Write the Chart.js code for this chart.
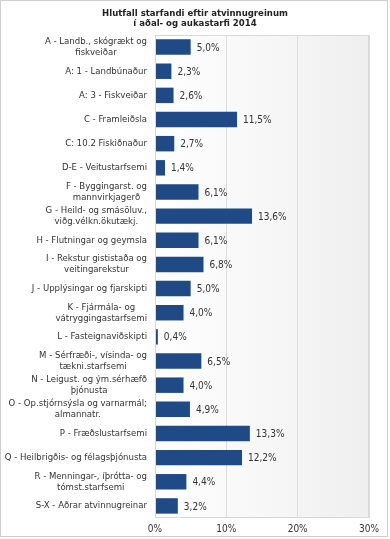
<!DOCTYPE html>
<html>
<head>
<meta charset="utf-8">
<script src="https://cdn.jsdelivr.net/npm/chart.js@4/dist/chart.umd.min.js"></script>
<style>
  html, body { margin: 0; padding: 0; background: #fff; }
  #wrap { width: 390px; height: 539px; }
</style>
</head>
<body>
<div id="wrap"><canvas id="myChart" width="390" height="539"></canvas></div>
<script>
const chartTitle = ["Hlutfall starfandi eftir atvinnugreinum", "í aðal- og aukastarfi 2014"];

const categories = [
    ["A - Landb., skógrækt og", "fiskveiðar"],
    "A: 1 - Landbúnaður",
    "A: 3 - Fiskveiðar",
    "C - Framleiðsla",
    "C: 10.2 Fiskiðnaður",
    "D-E - Veitustarfsemi",
    ["F - Byggingarst. og", "mannvirkjagerð"],
    ["G - Heild- og smásöluv.,", "viðg.vélkn.ökutækj."],
    "H - Flutningar og geymsla",
    ["I - Rekstur gististaða og", "veitingarekstur"],
    "J - Upplýsingar og fjarskipti",
    ["K - Fjármála- og", "vátryggingastarfsemi"],
    "L - Fasteignaviðskipti",
    ["M - Sérfræði-, vísinda- og", "tækni.starfsemi"],
    ["N - Leigust. og ým.sérhæfð", "þjónusta"],
    ["O - Op.stjórnsýsla og varnarmál;", "almannatr."],
    "P - Fræðslustarfsemi",
    "Q - Heilbrigðis- og félagsþjónusta",
    ["R - Menningar-, íþrótta- og", "tómst.starfsemi"],
    "S-X - Aðrar atvinnugreinar",
];

const shares = [5.0, 2.3, 2.6, 11.5, 2.7, 1.4, 6.1, 13.6, 6.1, 6.8, 5.0, 4.0, 0.4, 6.5, 4.0, 4.9, 13.3, 12.2, 4.4, 3.2];

const xTicks = [0, 10, 20, 30];

const fontFamily = "'DejaVu Sans Condensed', 'DejaVu Sans', sans-serif";
const labelFont = "9.5px " + fontFamily;
const textColor = "#333333";

// gradient plot background, outer frame and title
const backdrop = {
    id: "backdrop",
    beforeDraw(chart) {
        const ctx = chart.ctx;
        const a = chart.chartArea;
        ctx.save();
        ctx.fillStyle = "#ffffff";
        ctx.fillRect(0, 0, chart.width, chart.height);
        const g = ctx.createLinearGradient(a.left, 0, a.right, 0);
        g.addColorStop(0, "#ffffff");
        g.addColorStop(1, "#efefef");
        ctx.fillStyle = g;
        ctx.fillRect(a.left, a.top, a.right - a.left, a.bottom - a.top);
        ctx.restore();
    },
    afterDraw(chart) {
        const ctx = chart.ctx;
        const a = chart.chartArea;
        ctx.save();
        ctx.strokeStyle = "#d8d8d8";
        ctx.lineWidth = 1;
        ctx.strokeRect(a.left + 0.5, a.top + 0.5, a.right - a.left - 1, a.bottom - a.top - 1);
        ctx.strokeStyle = "#cfcfcf";
        ctx.strokeRect(0.5, 0.5, chart.width - 3, chart.height - 3);
        // title
        ctx.fillStyle = "#222222";
        ctx.font = "bold 9.5px " + fontFamily;
        ctx.textAlign = "center";
        ctx.textBaseline = "middle";
        ctx.fillText(chartTitle[0], 195, 14);
        ctx.fillText(chartTitle[1], 195, 24);
        ctx.restore();
    },
};

// category labels: block right-aligned, lines centred inside the block
const catLabels = {
    id: "catLabels",
    afterDraw(chart) {
        const ctx = chart.ctx;
        const yScale = chart.scales.y;
        const right = chart.chartArea.left - 8;
        ctx.save();
        ctx.font = labelFont;
        ctx.fillStyle = textColor;
        ctx.textAlign = "center";
        ctx.textBaseline = "middle";
        categories.forEach((lab, i) => {
            const lines = Array.isArray(lab) ? lab : [lab];
            const w = Math.max(...lines.map((l) => ctx.measureText(l).width));
            const cx = right - w / 2;
            const y = yScale.getPixelForValue(i);
            const lh = 11;
            const y0 = y - ((lines.length - 1) * lh) / 2;
            lines.forEach((l, k) => ctx.fillText(l, cx, y0 + k * lh));
        });
        ctx.restore();
    },
};

// value labels at bar ends
const valueLabels = {
    id: "valueLabels",
    afterDatasetsDraw(chart) {
        const ctx = chart.ctx;
        const meta = chart.getDatasetMeta(0);
        ctx.save();
        ctx.font = "10px " + fontFamily;
        ctx.fillStyle = textColor;
        ctx.textAlign = "left";
        ctx.textBaseline = "middle";
        meta.data.forEach((bar, i) => {
            const txt = shares[i].toFixed(1).replace(".", ",") + "%";
            ctx.fillText(txt, bar.x + 6, bar.y + 1);
        });
        ctx.restore();
    },
};

new Chart(document.getElementById("myChart"), {
    type: "bar",
    data: {
        labels: categories,
        datasets: [
            {
                label: "Hlutfall",
                data: shares,
                backgroundColor: "#1f4a86",
                barPercentage: 0.64,
                categoryPercentage: 1,
            },
        ],
    },
    options: {
        indexAxis: "y",
        responsive: false,
        animation: false,
        layout: { padding: { left: 0, right: 21, top: 35, bottom: 0 } },
        plugins: {
            legend: { display: false },
            tooltip: { enabled: false },
            title: { display: false },
        },
        scales: {
            x: {
                min: 0,
                max: 30,
                afterBuildTicks(axis) {
                    axis.ticks = xTicks.map((v) => ({ value: v }));
                },
                afterFit(axis) {
                    axis.height = 21;
                },
                ticks: {
                    color: textColor,
                    font: { family: fontFamily, size: 10 },
                    padding: 5,
                    maxRotation: 0,
                    callback: (v) => v + "%",
                },
                grid: { color: "#dcdcdc", drawTicks: false },
                border: { display: false },
            },
            y: {
                afterFit(axis) {
                    axis.width = 155;
                },
                ticks: { display: false },
                grid: { display: false, drawTicks: false },
                border: { display: false },
            },
        },
    },
    plugins: [backdrop, catLabels, valueLabels],
});
</script>
</body>
</html>
